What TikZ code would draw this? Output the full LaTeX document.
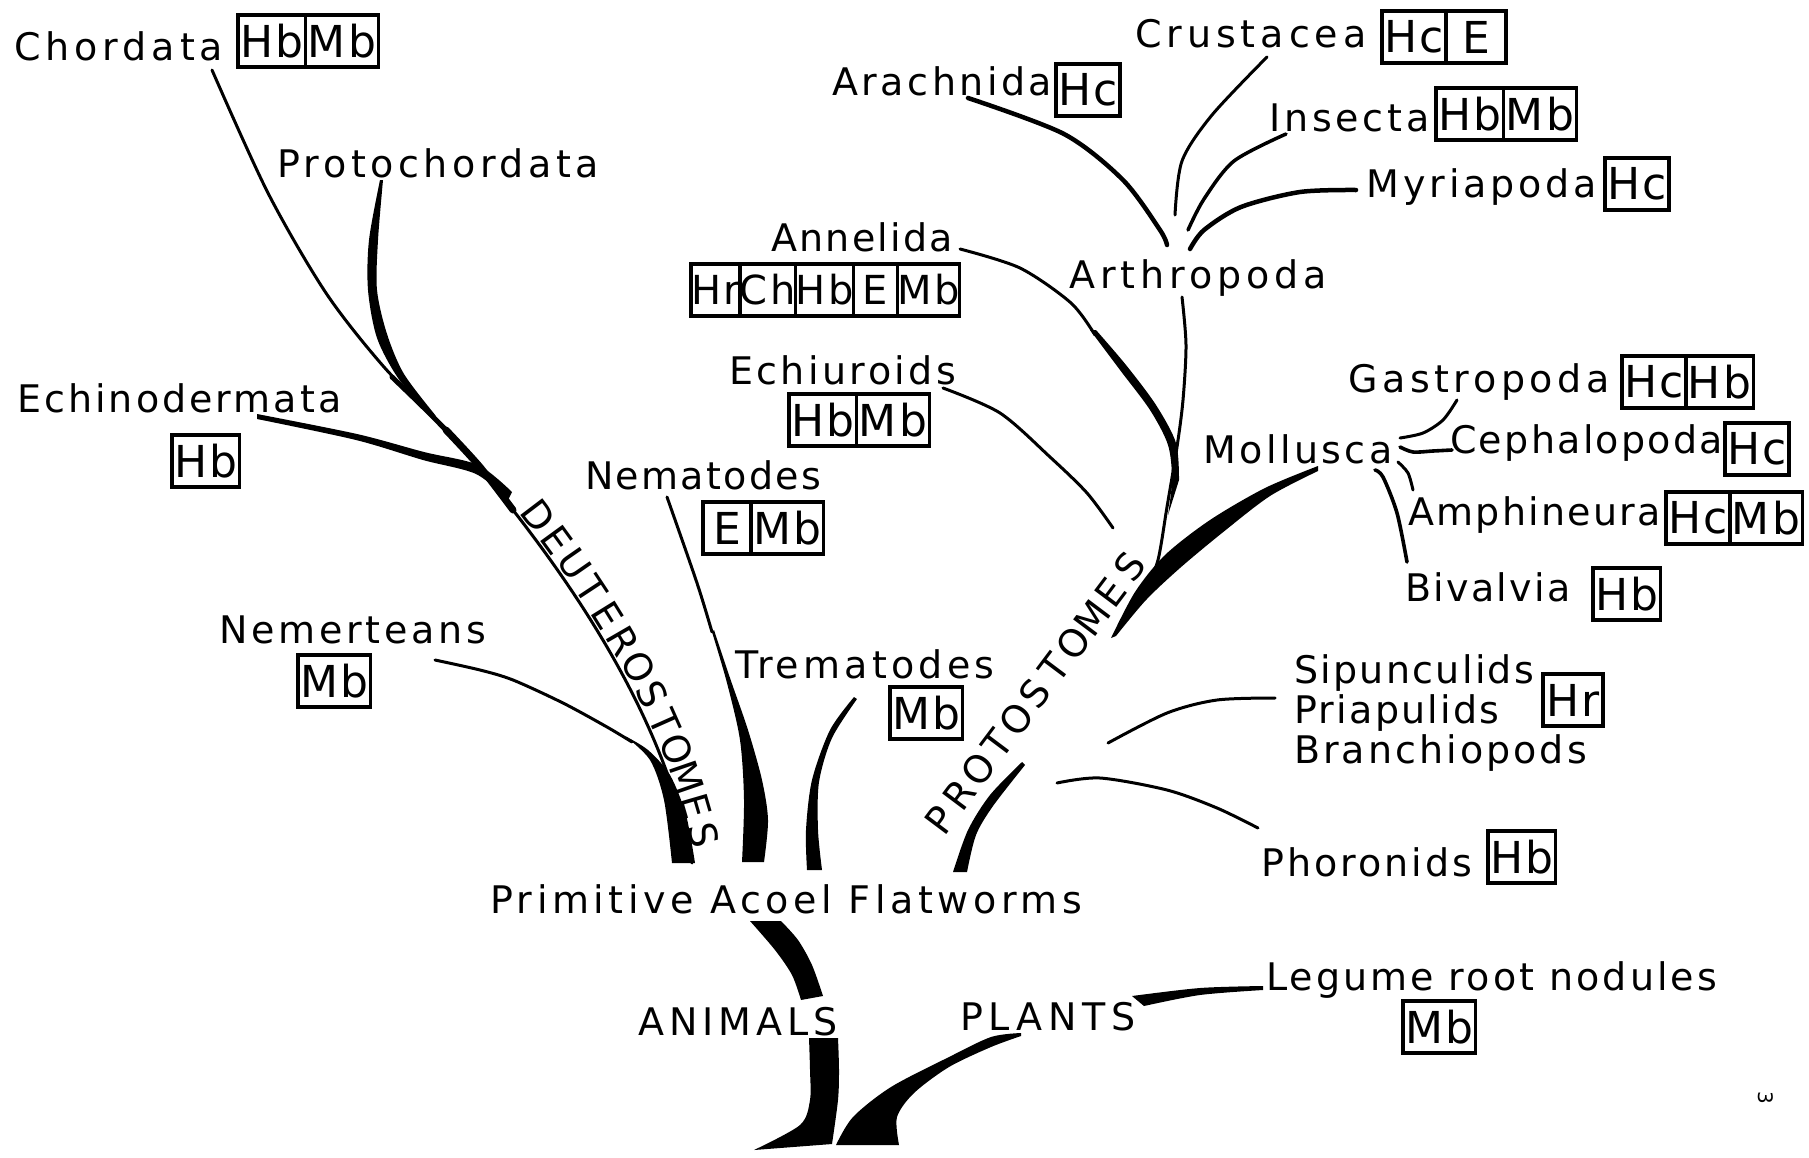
\documentclass[tikz,border=0pt]{standalone}
\usepackage{fontspec}
\setmainfont{DejaVu Sans}[LetterSpace=6]
\usetikzlibrary{positioning}

\newcommand{\labelfont}{\fontsize{38}{44}\selectfont}
\newcommand{\cellfont}{\fontsize{44}{50}\selectfont}
\newcommand{\smallcellfont}{\fontsize{40}{46}\selectfont}

\tikzset{
  lbl/.style={font=\labelfont, inner sep=0pt, anchor=base west},
  ls/.style={font=\labelfont\addfontfeature{LetterSpace=#1}},
  cell/.style={draw, line width=3.2pt, font=\cellfont, minimum height=52pt,
    minimum width=60pt, inner xsep=2pt, inner ysep=0pt, outer sep=0pt, anchor=west},
  smallcell/.style={cell, font=\smallcellfont, minimum width=44pt, inner xsep=0pt},
  twig/.style={line width=3pt, line cap=round, line join=round},
}

\begin{document}
\begin{tikzpicture}[x=1pt, y=-1pt]
  \useasboundingbox (0,0) rectangle (1809,1157);

  % draw group labels
  \node[lbl, ls=13]   (chordata)      at (14,60)    {Chordata};
  \node[lbl, ls=12]   (protochordata) at (277,177)  {Protochordata};
  \node[lbl, ls=8]    (echino)        at (17,412)   {Echinodermata};
  \node[lbl, ls=10]   (nemert)        at (219,643)  {Nemerteans};
  \node[lbl]          (nemat)         at (585,489)  {Nematodes};
  \node[lbl, ls=11]   (tremat)        at (735,678)  {Trematodes};
  \node[lbl, ls=12]   (acoel)         at (490,913)  {Primitive Acoel Flatworms};
  \node[lbl, ls=13]   (animals)       at (638,1035) {ANIMALS};
  \node[lbl, ls=15]   (plants)        at (960,1030) {PLANTS};
  \node[lbl, ls=8]    (legume)        at (1266,990) {Legume root nodules};
  \node[lbl, ls=8]    (phoron)        at (1261,876) {Phoronids};
  \node[lbl]          (sipun)         at (1294,683) {Sipunculids};
  \node[lbl]          (priap)         at (1294,723) {Priapulids};
  \node[lbl, ls=8]    (branchio)      at (1294,763) {Branchiopods};
  \node[lbl]          (bival)         at (1405,601) {Bivalvia};
  \node[lbl]          (amphin)        at (1408,525) {Amphineura};
  \node[lbl]          (cephal)        at (1450,453) {Cephalopoda};
  \node[lbl, ls=9]    (mollusca)      at (1203,463) {Mollusca};
  \node[lbl, ls=12]   (gastro)        at (1348,392) {Gastropoda};
  \node[lbl, ls=9]    (echiur)        at (729,384)  {Echiuroids};
  \node[lbl]          (annel)         at (771,251)  {Annelida};
  \node[lbl, ls=13]   (arthro)        at (1069,288) {Arthropoda};
  \node[lbl, ls=9, anchor=base east] (arach) at (1052,95) {Arachnida};
  \node[lbl, ls=13]   (crust)         at (1135,47)  {Crustacea};
  \node[lbl, ls=10]   (insect)        at (1269,131) {Insecta};
  \node[lbl, ls=10, anchor=base east] (myria) at (1597,197) {Myriapoda};
  \node[font=\fontsize{20}{20}\selectfont, inner sep=0pt, rotate=-90] (pageno) at (1766,1098) {3};

  % draw pigment boxes
  \node[cell] (chordataHb) at (238,41) {Hb};
  \node[cell, right=0pt of chordataHb] (chordataMb) {Mb};
  \node[cell] (echinoHb) at (172,461) {Hb};
  \node[cell] (nemertMb) at (298,681) {Mb};
  \node[cell, minimum width=48pt] (nematE) at (703,528) {E};
  \node[cell, right=0pt of nematE] (nematMb) {Mb};
  \node[cell] (trematMb) at (890,713) {Mb};
  \node[cell] (echiurHb) at (789,420) {Hb};
  \node[cell, right=0pt of echiurHb] (echiurMb) {Mb};
  \node[smallcell] (annelHr) at (691,290) {Hr};
  \node[smallcell, right=0pt of annelHr] (annelCh) {Ch};
  \node[smallcell, right=0pt of annelCh] (annelHb) {Hb};
  \node[smallcell, right=0pt of annelHb] (annelE) {E};
  \node[smallcell, right=0pt of annelE] (annelMb) {Mb};
  \node[cell] (arachHc) at (1056,90) {Hc};
  \node[cell] (crustHc) at (1382,37) {Hc};
  \node[cell, right=0pt of crustHc] (crustE) {E};
  \node[cell] (insectHb) at (1436,114) {Hb};
  \node[cell, right=0pt of insectHb] (insectMb) {Mb};
  \node[cell] (myriaHc) at (1605,184) {Hc};
  \node[cell] (gastroHc) at (1622,382) {Hc};
  \node[cell, right=0pt of gastroHc] (gastroHb) {Hb};
  \node[cell] (cephalHc) at (1725,449) {Hc};
  \node[cell] (amphinHc) at (1666,518) {Hc};
  \node[cell, right=0pt of amphinHc] (amphinMb) {Mb};
  \node[cell] (bivalHb) at (1593,594) {Hb};
  \node[cell] (sipunHr) at (1543,700) {Hr};
  \node[cell] (phoronHb) at (1488,857) {Hb};
  \node[cell] (legumeMb) at (1403,1027) {Mb};

  % junctions
  \coordinate (deutTop) at (513,510);
  \coordinate (deutFoot) at (692,863);
  \coordinate (protoStart) at (940,820);
  \coordinate (protoEnd) at (1130,567);
  \coordinate (arthroFork) at (1177,447);
  \coordinate (protoTop) at (1111,638);

  % draw deuterostome branches
  \draw[twig] plot[smooth] coordinates {(212,70) (268,193) (326,293) (384,367) (446,430)};
  \fill plot[smooth] coordinates {(380,180) (369,240) (368,290) (377,338) (398,378) (425,408)}
     -- plot[smooth] coordinates {(436,416) (404,374) (387,334) (377,290) (378,240) (383,180)} -- cycle;
  \fill plot[smooth] coordinates {(257,414) (357,434) (424,452) (478,465) (512,492)}
     -- plot[smooth] coordinates {(508,500) (476,474) (423,460) (356,440) (257,419)} -- cycle;
  \draw[line width=5pt, line cap=round] plot[smooth] coordinates {(392,377) (420,404) (446,430)};
  \draw[line width=7pt, line cap=round] plot[smooth] coordinates {(446,430) (480,467) (deutTop)};
  \draw[twig] (deutTop) .. controls (595,615) and (668,735) .. (deutFoot);
  \path (deutTop) .. controls (595,615) and (668,735) .. (deutFoot)
    foreach \l [count=\i] in {D,E,U,T,E,R,O,S,T,O,M,E,S}
      { node[pos=0.05+(\i-1)*0.074, sloped, anchor=south, inner sep=3pt, font=\labelfont] {\l} };
  \draw[twig] plot[smooth] coordinates {(435,660) (480,670) (513,680) (563,703) (607,727) (632,742)};
  \fill plot[smooth] coordinates {(625,736) (650,760) (664,800) (672,863)}
     -- plot[smooth] coordinates {(695,863) (686,815) (670,775) (648,750) (625,736)} -- cycle;

  % draw flatworm offshoots
  \draw[twig] plot[smooth] coordinates {(667,497) (697,583) (712,632)};
  \fill plot[smooth] coordinates {(712,632) (727,683) (740,740) (744,800) (742,862)}
     -- plot[smooth] coordinates {(764,862) (768,820) (762,780) (748,730) (730,678) (714,630)} -- cycle;
  \fill plot[smooth] coordinates {(854,697) (830,730) (812,780) (806,830) (807,870)}
     -- plot[smooth] coordinates {(822,870) (818,830) (819,782) (832,738) (857,699)} -- cycle;

  % draw protostome branches
  \path (protoStart) -- (protoEnd)
    foreach \l [count=\i] in {P,R,O,T,O,S,T,O,M,E,S}
      { node[pos=(\i-1)*0.1, sloped, inner sep=0pt, font=\labelfont] {\l} };
  \fill plot[smooth] coordinates {(1022,762) (990,795) (968,830) (953,872)}
     -- plot[smooth] coordinates {(967,872) (976,835) (993,806) (1025,765)} -- cycle;
  \fill plot[smooth] coordinates {(1318,466) (1265,488) (1210,520) (1165,555) (1135,592) (protoTop)}
     -- plot[smooth] coordinates {(1116,636) (1146,600) (1180,568) (1222,533) (1270,496) (1318,471)} -- cycle;
  \draw[twig] plot[smooth] coordinates {(1182,297) (1186,345) (1183,400) (arthroFork) (1167,507) (1158,560) (1146,590)};
  \draw[twig] plot[smooth] coordinates {(960,249) (1020,268) (1071,303) (1095,335)};
  \fill plot[smooth] coordinates {(1090,330) (1120,370) (1150,410) (1168,445) (1172,480) (1168,515)}
     -- plot[smooth] coordinates {(1179,480) (1176,443) (1156,405) (1126,365) (1096,330)} -- cycle;
  \draw[twig] plot[smooth] coordinates {(943,388) (1000,413) (1050,457) (1087,493) (1113,528)};
  \draw[twig] plot[smooth] coordinates {(1108,743) (1167,713) (1217,700) (1275,698)};
  \draw[twig] plot[smooth] coordinates {(1057,783) (1100,778) (1167,790) (1217,808) (1258,828)};

  % draw arthropod fork
  \draw[twig, line width=4.5pt] plot[smooth] coordinates {(968,98) (1064,134) (1123,180) (1160,230) (1167,245)};
  \draw[twig] plot[smooth] coordinates {(1267,57) (1212,115) (1182,161) (1175,215)};
  \draw[twig, line width=3.5pt] plot[smooth] coordinates {(1286,134) (1234,161) (1204,199) (1188,230)};
  \draw[twig, line width=4.5pt] plot[smooth] coordinates {(1356,190) (1300,192) (1241,207) (1204,230) (1190,249)};

  % draw mollusc fork
  \draw[twig] plot[smooth] coordinates {(1457,400) (1443,420) (1423,433) (1400,438)};
  \draw[twig, line width=3.6pt] plot[smooth] coordinates {(1400,447) (1413,452) (1433,451) (1452,450)};
  \draw[twig] plot[smooth] coordinates {(1398,462) (1408,473) (1413,490)};
  \draw[twig, line width=3.6pt] plot[smooth] coordinates {(1375,470) (1383,477) (1397,513) (1407,562)};

  % draw trunks
  \fill plot[smooth] coordinates {(750,921) (775,950) (792,975) (801,1000)}
     -- plot[smooth] coordinates {(823,996) (812,965) (798,940) (781,921)} -- cycle;
  \fill plot[smooth] coordinates {(809,1038) (810,1070) (810,1100) (800,1125) (754,1150)}
     -- plot[smooth] coordinates {(832,1144) (838,1100) (839,1070) (838,1038)} -- cycle;
  \fill plot[smooth] coordinates {(836,1145) (853,1117) (891,1087) (949,1057) (991,1037) (1021,1033)}
     -- plot[smooth] coordinates {(1021,1036) (991,1047) (949,1067) (914,1093) (897,1117) (899,1145)} -- cycle;
  \fill plot[smooth] coordinates {(1132,996) (1200,988) (1263,986)}
     -- plot[smooth] coordinates {(1263,990) (1200,995) (1144,1006)} -- cycle;
\end{tikzpicture}
\end{document}
